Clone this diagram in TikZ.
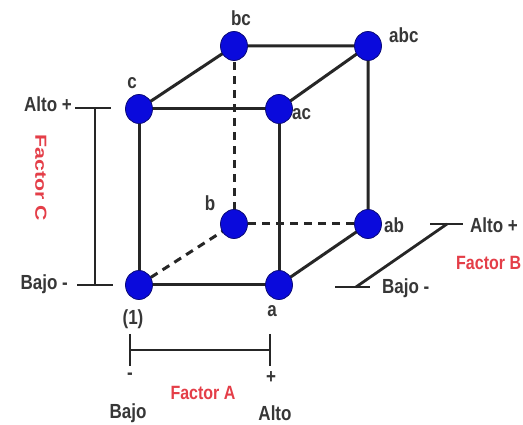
\documentclass[tikz,border=0pt]{standalone}
\usepackage{fontspec}
\usepackage{graphicx}
\setmainfont{Liberation Sans}
\usetikzlibrary{shapes.geometric}
\definecolor{txt}{RGB}{55,55,55}
\definecolor{redt}{RGB}{228,62,72}
\definecolor{ball}{RGB}{10,10,220}
\definecolor{ballrim}{RGB}{10,10,120}
\newcommand{\tallt}[1]{\scalebox{1}[1.2]{#1}}
\begin{document}
\begin{tikzpicture}[x=1pt,y=-1pt,
  vtx/.style={ellipse,draw=ballrim,line width=0.8pt,fill=ball,minimum width=27pt,minimum height=29pt,inner sep=0pt},
  edge/.style={line width=3pt,draw=black!85},
  hid/.style={edge,dash pattern=on 8pt off 6pt},
  brk/.style={line width=2.8pt,draw=black!85},
  lbl/.style={text=txt,font=\fontsize{17}{19}\selectfont\bfseries,inner sep=1pt},
  redl/.style={text=redt,font=\fontsize{16}{18}\selectfont\bfseries,inner sep=1pt}]
\useasboundingbox (0,0) rectangle (523,425);
\fill[white] (0,0) rectangle (523,425);
% vertices
\coordinate (p1) at (139,285);
\coordinate (pa) at (279,285);
\coordinate (pb) at (234,224);
\coordinate (pab) at (368,224);
\coordinate (pc) at (139,109);
\coordinate (pac) at (279,109);
\coordinate (pbc) at (234,46);
\coordinate (pabc) at (368,46);
% edges
\draw[hid] (p1) -- (pb);
\draw[hid] (pb) -- (pab);
\draw[hid] (pb) -- (pbc);
\draw[edge] (p1) -- (pa) -- (pac) -- (pc) -- cycle;
\draw[edge] (pc) -- (pbc) -- (pabc) -- (pac);
\draw[edge] (pabc) -- (pab) -- (pa);
% nodes
\foreach \n in {p1,pa,pb,pab,pc,pac,pbc,pabc}
  \node[vtx] (n\n) at (\n) {};
% labels
\node[lbl] (l1) at (133,319) {\tallt{(1)}};
\node[lbl] (la) at (272,311) {\tallt{a}};
\node[lbl] (lb) at (210,203) {\tallt{b}};
\node[lbl,anchor=west] (lab) at (383,225) {\tallt{ab}};
\node[lbl] (lc) at (132,83) {\tallt{c}};
\node[lbl,anchor=west] (lac) at (291,114) {\tallt{ac}};
\node[lbl] (lbc) at (241,18) {\tallt{bc}};
\node[lbl,anchor=west] (labc) at (388,35) {\tallt{abc}};
% Factor C
\coordinate (cTl) at (75,108);
\coordinate (cTr) at (111,108);
\coordinate (cBl) at (77,285);
\coordinate (cBr) at (113,285);
\coordinate (cTm) at (95,108);
\coordinate (cBm) at (95,285);
\draw[brk] (cTl) -- (cTr);
\draw[brk] (cBl) -- (cBr);
\draw[brk] (cTm) -- (cBm);
\node[lbl,anchor=east] (altoC) at (73,104) {\tallt{Alto +}};
\node[lbl,anchor=east] (bajoC) at (69,284) {\tallt{Bajo -}};
\node[redl] (fC) at (41,178) {\rotatebox{-90}{\scalebox{1.33}[1]{Factor C}}};
% Factor A
\coordinate (aLt) at (130,334);
\coordinate (aLb) at (130,366);
\coordinate (aRt) at (270,334);
\coordinate (aRb) at (270,366);
\coordinate (aLm) at (130,350);
\coordinate (aRm) at (270,350);
\draw[brk] (aLt) -- (aLb);
\draw[brk] (aRt) -- (aRb);
\draw[brk] (aLm) -- (aRm);
\node[lbl] (mA) at (130,376) {\tallt{-}};
\node[lbl] (pA) at (271,378) {\tallt{+}};
\node[redl] (fA) at (203,393) {\tallt{Factor A}};
\node[lbl] (bajoA) at (128,413) {\tallt{Bajo}};
\node[lbl] (altoA) at (275,413) {\tallt{Alto}};
% Factor B
\coordinate (bBl) at (335,287);
\coordinate (bBr) at (370,287);
\coordinate (bTl) at (430,224);
\coordinate (bTr) at (463,224);
\coordinate (bBd) at (356,287);
\coordinate (bTd) at (447,224);
\draw[brk] (bBl) -- (bBr);
\draw[brk] (bTl) -- (bTr);
\draw[brk] (bBd) -- (bTd);
\node[lbl,anchor=west] (altoB) at (469,225) {\tallt{Alto +}};
\node[lbl,anchor=west] (bajoB) at (381,288) {\tallt{Bajo -}};
\node[redl,anchor=west] (fB) at (455,263) {\tallt{Factor B}};
\end{tikzpicture}
\end{document}
